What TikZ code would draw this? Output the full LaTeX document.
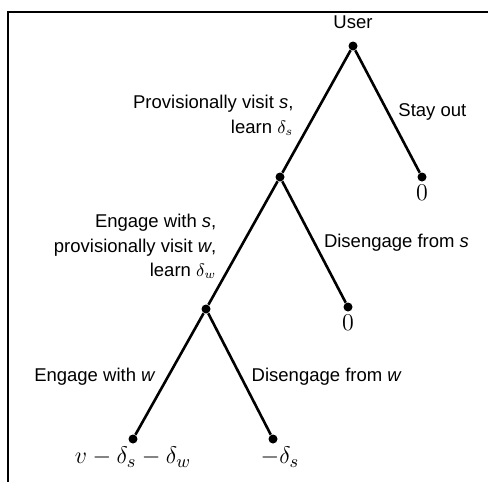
\documentclass[tikz,border=0pt]{standalone}
\usepackage{fontspec}
\setsansfont{Liberation Sans}
\usetikzlibrary{positioning}

\begin{document}
\begin{tikzpicture}[
    x=0.5pt, y=-0.5pt,
    on grid,
    every node/.style={font=\sffamily\fontsize{9.25}{12.25}\selectfont},
    decision/.style={circle, fill, inner sep=0pt, minimum size=4.5pt},
    payoff/.style={font=\fontsize{12.5}{15}\selectfont, inner sep=1.5pt},
    branch/.style={line width=1.3pt},
    choice/.style={align=right}
    ]
    \useasboundingbox (0,0) rectangle (488,482);
    \draw[line width=1pt] (8,482) -- (8,12) -- (488,12);

    % decision points and outcomes
    \node[decision, label={[label distance=2.6pt]above:User}] (user) at (353,46) {};
    \node[decision, below left=65.5pt and 36.5pt of user] (visit) {};
    \node[decision, below right=65.5pt and 34.5pt of user, label={[payoff]below:$0$}] (out) {};
    \node[decision, below left=66pt and 37pt of visit] (engage) {};
    \node[decision, below right=65pt and 34pt of visit, label={[payoff]below:$0$}] (quit) {};
    \node[decision, below left=65pt and 36.5pt of engage, label={[payoff]below:$v-\delta_s-\delta_w$}] (keep) {};
    \node[decision, below right=65pt and 33.5pt of engage, label={[payoff, xshift=3.5pt]below:$-\delta_s$}] (drop) {};

    % branches
    \draw[branch] (user) -- (visit) node[choice, pos=.53, left=6.5pt] {Provisionally visit \textit{s},\\ learn $\delta_s$};
    \draw[branch] (user) -- (out) node[pos=.5, right=1.5pt] {Stay out};
    \draw[branch] (visit) -- (engage) node[choice, pos=.53, left=8.3pt] {Engage with \textit{s},\\ provisionally visit \textit{w},\\ learn $\delta_w$};
    \draw[branch] (visit) -- (quit) node[pos=.51, right=0.7pt] {Disengage from \textit{s}};
    \draw[branch] (engage) -- (keep) node[pos=.52, left=2.3pt] {Engage with \textit{w}};
    \draw[branch] (engage) -- (drop) node[pos=.52, right=1.5pt] {Disengage from \textit{w}};
\end{tikzpicture}
\end{document}
